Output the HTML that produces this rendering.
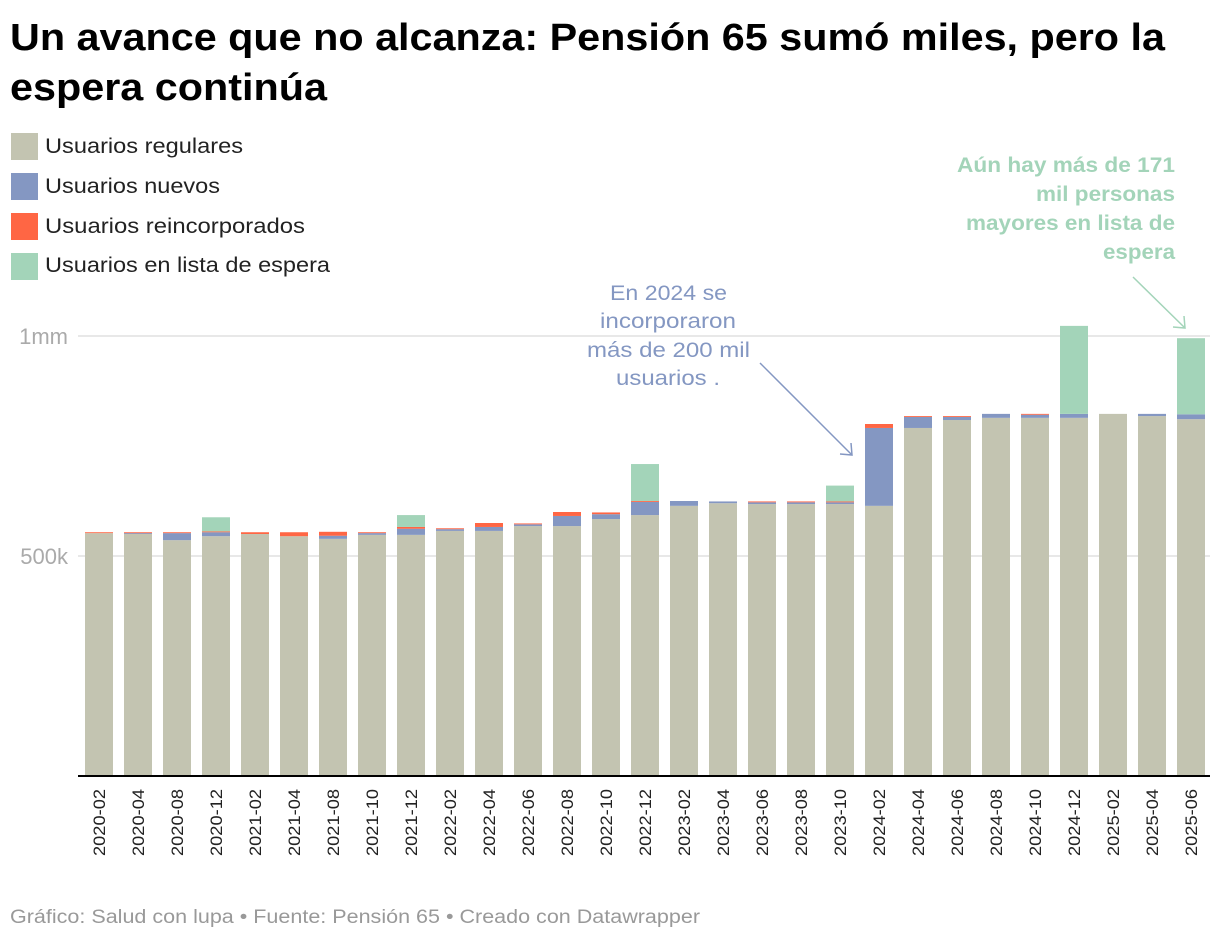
<!DOCTYPE html>
<html><head><meta charset="utf-8">
<style>
body{margin:0;background:#fff;font-family:"Liberation Sans",sans-serif;}
svg{display:block}
</style></head>
<body>
<svg id="chart" width="1220" height="942" xmlns="http://www.w3.org/2000/svg">
<text x="10" y="50" font-size="38" font-weight="bold" fill="#000" textLength="1155" lengthAdjust="spacingAndGlyphs">Un avance que no alcanza: Pensión 65 sumó miles, pero la</text>
<text x="10" y="100" font-size="38" font-weight="bold" fill="#000" textLength="317" lengthAdjust="spacingAndGlyphs">espera continúa</text>
<g font-size="21" fill="#222">
 <g><rect x="11" y="133" width="27" height="27" fill="#c3c4b1"/><text x="45" y="153" textLength="198" lengthAdjust="spacingAndGlyphs">Usuarios regulares</text></g>
 <g><rect x="11" y="173" width="27" height="27" fill="#8497c2"/><text x="45" y="193" textLength="175" lengthAdjust="spacingAndGlyphs">Usuarios nuevos</text></g>
 <g><rect x="11" y="213" width="27" height="27" fill="#ff6644"/><text x="45" y="233" textLength="260" lengthAdjust="spacingAndGlyphs">Usuarios reincorporados</text></g>
 <g><rect x="11" y="253" width="27" height="27" fill="#a3d4b9"/><text x="45" y="272" textLength="285" lengthAdjust="spacingAndGlyphs">Usuarios en lista de espera</text></g>
</g>
<g id="grid"></g>
<g id="bars"></g>
<g id="xlabels"></g>
<g font-size="21" fill="#8497c2">
 <text x="610" y="300" textLength="117" lengthAdjust="spacingAndGlyphs">En 2024 se</text>
 <text x="600" y="328" textLength="136" lengthAdjust="spacingAndGlyphs">incorporaron</text>
 <text x="587" y="357" textLength="163" lengthAdjust="spacingAndGlyphs">más de 200 mil</text>
 <text x="616" y="385" textLength="104" lengthAdjust="spacingAndGlyphs">usuarios .</text>
 <line x1="760" y1="363" x2="852" y2="455" stroke="#8497c2" stroke-width="1.5"/>
 <polyline points="840,454 852,455 851,443" fill="none" stroke="#8497c2" stroke-width="1.5"/>
</g>
<g font-size="21" font-weight="bold" fill="#a3d4b9">
 <text x="957" y="172" textLength="218" lengthAdjust="spacingAndGlyphs">Aún hay más de 171</text>
 <text x="1036" y="201" textLength="139" lengthAdjust="spacingAndGlyphs">mil personas</text>
 <text x="966" y="230" textLength="209" lengthAdjust="spacingAndGlyphs">mayores en lista de</text>
 <text x="1103" y="259" textLength="72" lengthAdjust="spacingAndGlyphs">espera</text>
 <line x1="1133" y1="277" x2="1185" y2="328" stroke="#a3d4b9" stroke-width="1.5"/>
 <polyline points="1173,327 1185,328 1184,316" fill="none" stroke="#a3d4b9" stroke-width="1.5"/>
</g>
<text x="10" y="923" font-size="19" fill="#999" textLength="690" lengthAdjust="spacingAndGlyphs">Gráfico: Salud con lupa • Fuente: Pensión 65 • Creado con Datawrapper</text>
</svg>
<script>
const categories=["2020-02","2020-04","2020-08","2020-12","2021-02","2021-04","2021-08","2021-10","2021-12","2022-02","2022-04","2022-06","2022-08","2022-10","2022-12","2023-02","2023-04","2023-06","2023-08","2023-10","2024-02","2024-04","2024-06","2024-08","2024-10","2024-12","2025-02","2025-04","2025-06"];
const regulares=[552000,550000,536000,545000,550000,545000,539000,548000,548000,557000,557000,568000,568000,584000,593000,614000,620000,618000,618000,618000,614000,791000,809000,814000,814000,814000,823000,818000,811000];
const nuevos=[0,2000,16000,9000,0,0,7000,4000,14000,4000,9000,4000,23000,11000,30000,11000,4000,4000,4000,4000,177000,25000,7000,9000,7000,9000,0,5000,11000];
const reincorporados=[2000,2000,2000,2000,4000,9000,9000,2000,4000,2000,9000,2000,9000,4000,2000,0,0,2000,2000,2000,9000,2000,2000,0,2000,0,0,0,0];
const espera=[0,0,0,32000,0,0,0,0,27000,0,0,0,0,0,84000,0,0,0,0,36000,0,0,0,0,0,200000,0,0,173000];
const yTicks=[0,500000,1000000];
const yTickLabels=["","500k","1mm"];

const NS="http://www.w3.org/2000/svg";
const x0=85,step=39,bw=28,base=776,pxPerUnit=440/1000000;
const xScale=i=>x0+i*step;
const yScale=v=>base-v*pxPerUnit;
function mk(tag,attrs,parent){const e=document.createElementNS(NS,tag);for(const k in attrs)e.setAttribute(k,attrs[k]);parent.appendChild(e);return e;}
const grid=document.getElementById('grid');
yTicks.forEach((t,i)=>{
  if(t===0)return;
  const l=mk('line',{x1:78,x2:1210,y1:yScale(t),y2:yScale(t),stroke:'#e0e0e0','stroke-width':1.5},grid);
  
  
  const tx=mk('text',{x:68,y:yScale(t)+8,'text-anchor':'end','font-size':22,fill:'#aaa'},grid);
  tx.textContent=yTickLabels[i];
  
  
});
const bars=document.getElementById('bars');
const series=[[regulares,'#c3c4b1','regulares'],[nuevos,'#8497c2','nuevos'],[reincorporados,'#ff6644','reincorporados'],[espera,'#a3d4b9','espera']];
categories.forEach((c,i)=>{
  let acc=0;
  series.forEach(([arr,col,nm])=>{
    const v=arr[i]; if(!v)return;
    const r=mk('rect',{x:xScale(i),width:bw,y:yScale(acc+v),height:yScale(acc)-yScale(acc+v),fill:col},bars);
    
    
    acc+=v;
  });
});
const axis=mk('line',{x1:78,x2:1210,y1:base,y2:base,stroke:'#000','stroke-width':2},bars);


const xl=document.getElementById('xlabels');
categories.forEach((c,i)=>{
  const cx=xScale(i)+bw/2+6;
  const t=mk('text',{x:cx,y:789,'font-size':17,fill:'#222','text-anchor':'end',textLength:67,lengthAdjust:'spacingAndGlyphs',transform:`rotate(-90 ${cx} 789)`},xl);
  t.textContent=c;
  
  
});
</script>
</body></html>
